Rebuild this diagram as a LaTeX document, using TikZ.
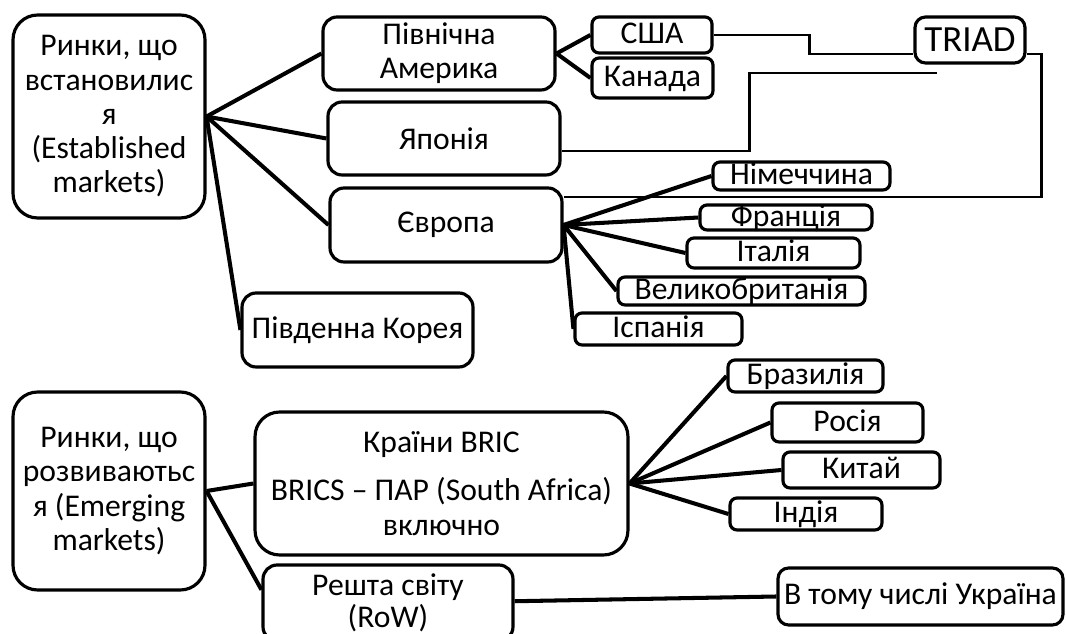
\documentclass[tikz,border=0pt]{standalone}
\usepackage{fontspec}
\setmainfont{Carlito}

\tikzset{
  box/.style={draw, line width=1.8pt, rounded corners=4pt, inner sep=0pt, align=center},
  bigbox/.style={box, rounded corners=14pt},
  smallbox/.style={box, text height=10pt, text depth=0pt},
  link/.style={line width=2.3pt},
  thinlink/.style={line width=1.3pt},
}

\begin{document}
\begin{tikzpicture}[x=0.02cm,y=-0.02cm,font=\fontsize{18}{19.5}\selectfont]
	\useasboundingbox (0,0) rectangle (1066,634);

	% established markets
	\node[bigbox, minimum width=3.84cm, minimum height=4.06cm] (est) at (109,116.5)
		{Ринки, що\\встановилис\\я\\(Established\\markets)};
	\node[box, rounded corners=8pt, minimum width=4.64cm, minimum height=1.46cm] (na) at (439,53.5) {Північна\\Америка};
	\node[box, rounded corners=8pt, minimum width=4.64cm, minimum height=1.46cm] (japan) at (444,138.5) {Японія};
	\node[box, rounded corners=8pt, minimum width=4.64cm, minimum height=1.48cm] (europe) at (446,225) {Європа};
	\node[box, rounded corners=8pt, minimum width=4.62cm, minimum height=1.48cm] (korea) at (357.5,330) {Південна Корея};

	\node[smallbox, minimum width=2.40cm, minimum height=0.72cm] (usa) at (652,35) {США};
	\node[smallbox, minimum width=2.42cm, minimum height=0.80cm] (canada) at (652.5,78) {Канада};
	\node[box, rounded corners=6pt, minimum width=2.20cm, minimum height=0.92cm, font=\fontsize{21}{24}\selectfont] (triad) at (970,40) {TRIAD};

	\node[smallbox, minimum width=3.54cm, minimum height=0.56cm] (germany) at (801.5,176) {Німеччина};
	\node[smallbox, minimum width=3.44cm, minimum height=0.50cm] (france) at (786,217.5) {Франція};
	\node[smallbox, minimum width=3.46cm, minimum height=0.60cm] (italy) at (773.5,253) {Італія};
	\node[smallbox, minimum width=4.94cm, minimum height=0.56cm] (uk) at (741.5,291) {Великобританія};
	\node[smallbox, minimum width=3.34cm, minimum height=0.64cm] (spain) at (658.5,329) {Іспанія};

	% emerging markets
	\node[bigbox, minimum width=3.84cm, minimum height=3.96cm] (em) at (109,491)
		{Ринки, що\\розвиваютьс\\я (Emerging\\markets)};
	\node[bigbox, minimum width=7.46cm, minimum height=2.86cm] (bric) at (441.5,483.5)
		{Країни BRIC\\[8pt]BRICS – ПАР (South Africa)\\включно};
	\node[box, rounded corners=8pt, minimum width=5.00cm, minimum height=1.52cm] (row) at (388,603)
		{Решта світу\\[-1pt](RoW)};

	\node[smallbox, minimum width=3.10cm, minimum height=0.64cm] (brazil) at (805.5,376) {Бразилія};
	\node[smallbox, minimum width=3.02cm, minimum height=0.78cm] (russia) at (847.5,422.5) {Росія};
	\node[smallbox, minimum width=3.14cm, minimum height=0.72cm] (china) at (861.5,470) {Китай};
	\node[smallbox, minimum width=3.04cm, minimum height=0.64cm] (india) at (806,514) {Індія};
	\node[box, rounded corners=6pt, minimum width=5.70cm, minimum height=1.14cm] (ukr) at (920.5,596.5) {В тому числі Україна};

	% tree lines
	\foreach \n in {na,japan,europe,korea} \draw[link] (est.east) -- (\n.west);
	\foreach \n in {usa,canada} \draw[link] (na.east) -- (\n.west);
	\foreach \n in {germany,france,italy,uk,spain} \draw[link] (europe.east) -- (\n.west);
	\foreach \n in {brazil,russia,china,india} \draw[link] (bric.east) -- (\n.west);
	\draw[link] (em.east) -- (bric.west);
	\draw[link] (em.east) -- ([yshift=-15pt]row.north west);
	\draw[link] ([yshift=1pt]row.east) -- (ukr.west);

	% triad
	\coordinate (japanEnd) at (937,73);
	\draw[thinlink] (usa.east) -- ++(96,0) |- ([yshift=-8pt]triad.west);
	\draw[thinlink] ([yshift=-7pt]japan.east) -- ++(188,0) |- (japanEnd);
	\draw[thinlink] ([yshift=-8pt]triad.east) -- ++(15,0) |- ([yshift=-6pt]europe.north east);

\end{tikzpicture}
\end{document}
